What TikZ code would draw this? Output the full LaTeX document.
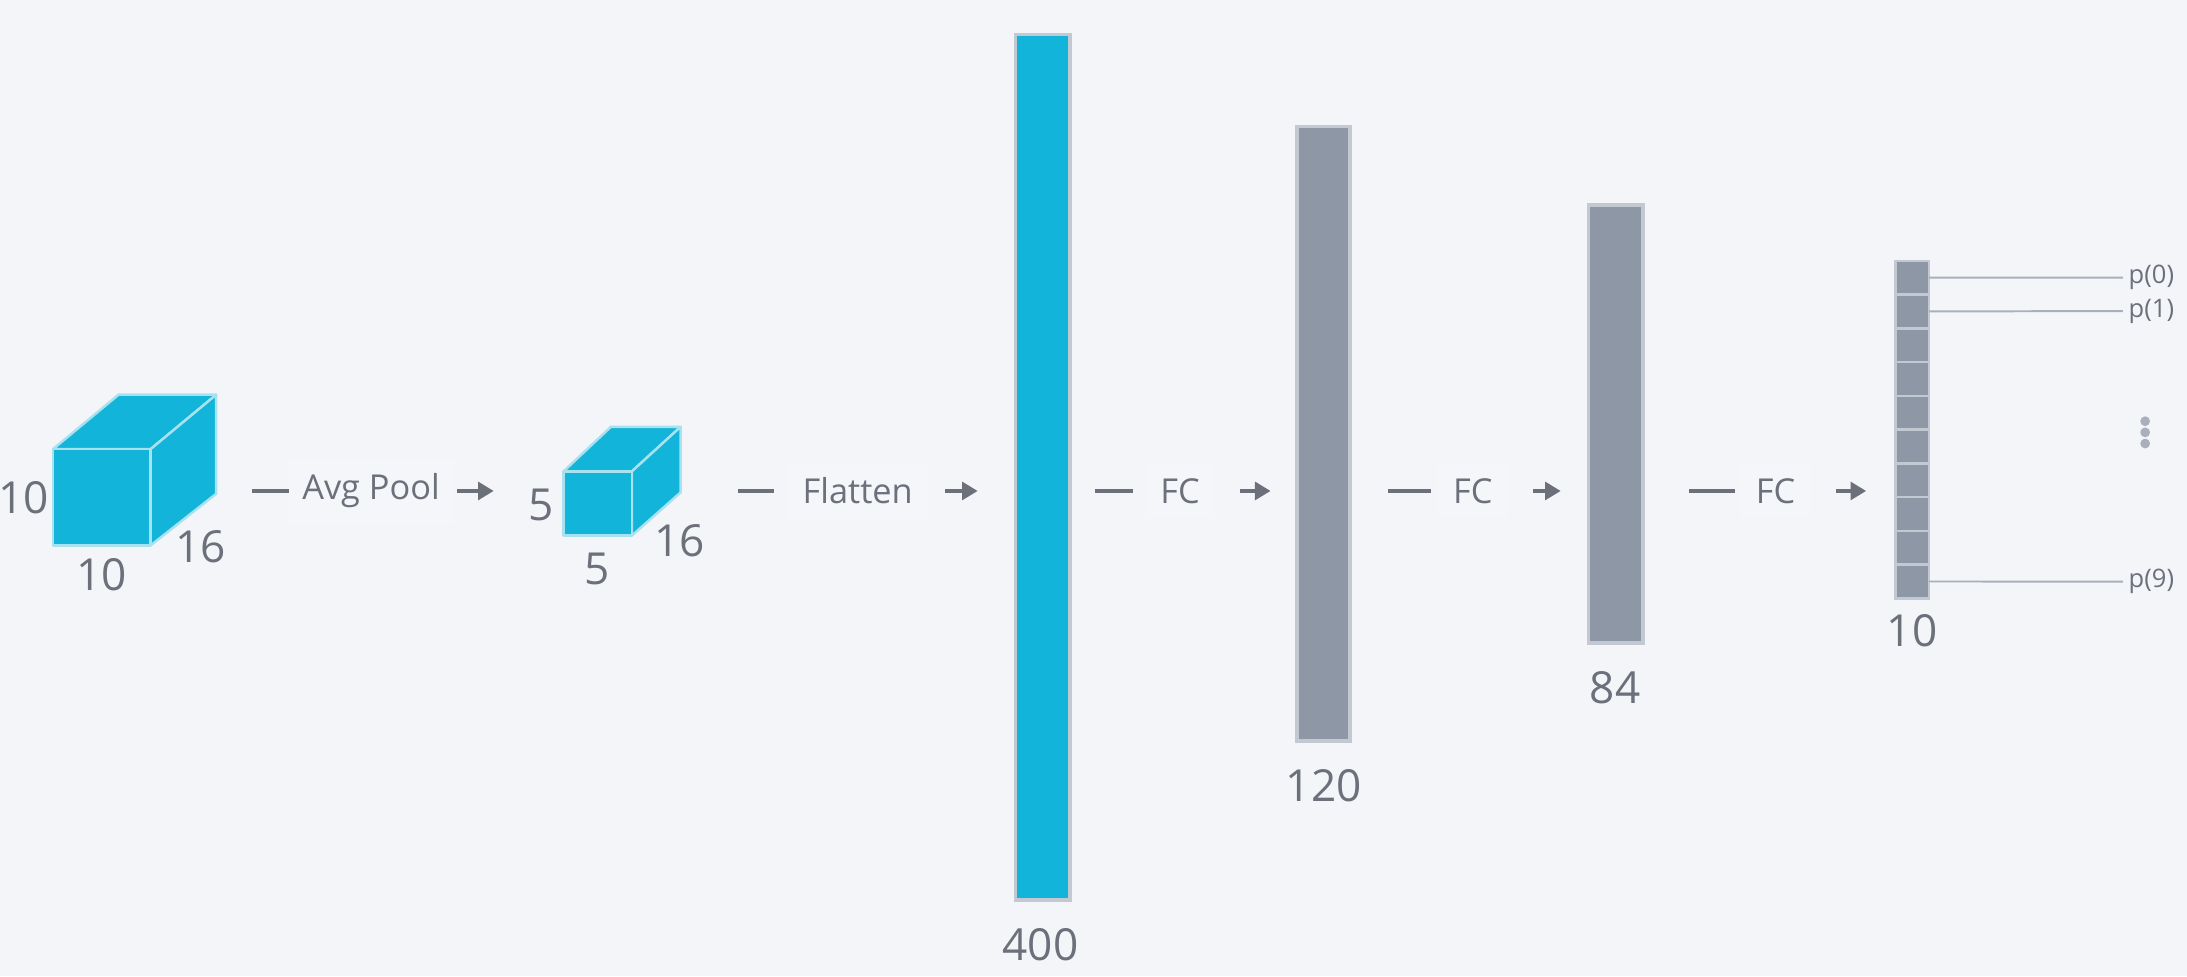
\documentclass[tikz,border=0pt]{standalone}
\usepackage{fontspec}
\setmainfont{Open Sans}
\usetikzlibrary{arrows.meta}
\definecolor{bg}{HTML}{F3F5F9}
\definecolor{cy}{HTML}{12B5D9}
\definecolor{gb}{HTML}{8E97A6}
\definecolor{tx}{HTML}{6C707B}
\definecolor{cedge}{HTML}{A8E2EF}
\definecolor{bord}{HTML}{C3C9D2}
\definecolor{pline}{HTML}{A9AFBD}
\definecolor{lblbox}{HTML}{F5F6FA}
\newcommand\lblbig{\fontsize{9}{10}\selectfont}
\newcommand\lblmid{\fontsize{7}{8}\selectfont}
\newcommand\lblsmall{\fontsize{5.2}{6}\selectfont}
\tikzset{
  cubeface/.style={fill=cy, draw=cedge, line width=0.5pt, line join=round},
  bar/.style={draw=bord, line width=0.7pt, inner sep=0pt, outer sep=0pt},
  cell/.style={draw=bord, fill=gb, line width=0.5pt, inner sep=0pt, outer sep=0pt, minimum width=0.24cm, minimum height=0.242cm},
  dimlbl/.style={text=tx, font=\lblbig, inner sep=0pt},
  oplbl/.style={text=tx, font=\lblmid, fill=lblbox, inner sep=3pt},
  plbl/.style={text=tx, font=\lblsmall, inner sep=1pt, anchor=west},
  dashln/.style={draw=tx, line width=0.9pt},
  arrowln/.style={draw=tx, line width=0.9pt, -{Triangle[length=3.2pt,width=3.6pt]}},
  outln/.style={draw=pline, line width=0.4pt},
}
\begin{document}
\begin{tikzpicture}[x=0.01cm,y=-0.01cm]
\fill[bg] (0,0) rectangle (1568,700);
\useasboundingbox (0,0) rectangle (1568,700);

% big cube 10x10x16
\filldraw[cubeface] (38,322) -- (85,283) -- (155,283) -- (108,322) -- cycle;
\filldraw[cubeface] (108,322) -- (155,283) -- (155,354) -- (108,391) -- cycle;
\filldraw[cubeface] (38,322) rectangle (108,391);
\node[dimlbl] (c1h) at (17,357) {10};
\node[dimlbl] (c1w) at (73,412) {10};
\node[dimlbl] (c1d) at (144,392) {16};

% small cube 5x5x16
\filldraw[cubeface] (404,338) -- (438,306) -- (488,306) -- (453,338) -- cycle;
\filldraw[cubeface] (453,338) -- (488,306) -- (488,353) -- (453,384) -- cycle;
\filldraw[cubeface] (404,338) rectangle (453,384);
\node[dimlbl] (c2h) at (388,362) {5};
\node[dimlbl] (c2w) at (428,408) {5};
\node[dimlbl] (c2d) at (487,388) {16};

% operation labels
\node[oplbl] (op1) at (266,352) {Avg Pool};
\coordinate (d1s) at (181,352); \coordinate (a1e) at (354,352);
\draw[dashln] (d1s) -- ++(26,0);
\draw[arrowln] (op1.east) ++(1,0) -- (a1e);

\node[oplbl] (op2) at (615,352) {Flatten};
\coordinate (d2s) at (529,352); \coordinate (a2e) at (701,352);
\draw[dashln] (d2s) -- ++(26,0);
\draw[arrowln] ([xshift=0.12cm]op2.east) -- (a2e);

\node[oplbl] (op3) at (846,352) {FC};
\coordinate (d3s) at (785,352); \coordinate (a3e) at (911,352);
\draw[dashln] (d3s) -- ++(27,0);
\draw[arrowln] ([xshift=0.18cm]op3.east) -- (a3e);

\node[oplbl] (op4) at (1056,352) {FC};
\coordinate (d4s) at (995,352); \coordinate (a4e) at (1119,352);
\draw[dashln] (d4s) -- ++(31,0);
\draw[arrowln] ([xshift=0.18cm]op4.east) -- (a4e);

\node[oplbl] (op5) at (1273,352) {FC};
\coordinate (d5s) at (1211,352); \coordinate (a5e) at (1338,352);
\draw[dashln] (d5s) -- ++(33,0);
\draw[arrowln] ([xshift=0.18cm]op5.east) -- (a5e);

% bars
\node[bar, fill=cy, minimum width=0.39cm, minimum height=6.2cm] (b400) at (747.5,335) {};
\node[dimlbl] (l400) at (746,677) {400};
\node[bar, fill=gb, minimum width=0.38cm, minimum height=4.4cm] (b120) at (949,311) {};
\node[dimlbl] (l120) at (949,563) {120};
\node[bar, fill=gb, minimum width=0.39cm, minimum height=3.14cm] (b84) at (1158.5,304) {};
\node[dimlbl] (l84) at (1158,493) {84};

% output cells
\foreach \i in {0,...,9}{
  \node[cell] (o\i) at (1371,{187+24.2*(\i+0.5)}) {};
}
\node[dimlbl] (l10) at (1371,452) {10};

\node[plbl] (p0) at (1522,199) {p(0)};
\node[plbl] (p1) at (1522,223) {p(1)};
\node[plbl] (p9) at (1522,417) {p(9)};
\draw[outln] (o0.east) -- (p0.west);
\draw[outln] (o1.east) -- (p1.west);
\draw[outln] (o9.east) -- (p9.west);

\foreach \yy in {302,310,318}{
  \fill[pline] (1538,\yy) circle (0.035cm);
}
\end{tikzpicture}
\end{document}
